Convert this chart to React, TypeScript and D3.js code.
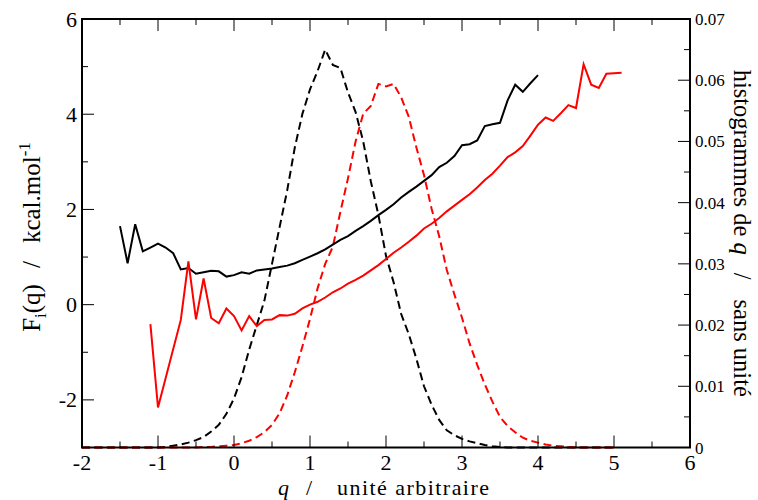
import React from "react";
import * as d3 from "d3";

// Free energy profiles F_i(q)
const qBlack = [-1.5,-1.4,-1.3,-1.2,-1.1,-1.0,-0.9,-0.8,-0.7,-0.6,-0.5,-0.4,-0.3,-0.2,-0.1,0.0,0.1,0.2,0.3,0.4,0.5,0.6,0.7,0.8,0.9,1.0,1.1,1.2,1.3,1.4,1.5,1.6,1.7,1.8,1.9,2.0,2.1,2.2,2.3,2.4,2.5,2.6,2.7,2.8,2.9,3.0,3.1,3.2,3.3,3.4,3.5,3.6,3.7,3.8,3.9,4.0];
const fBlack = [1.65,0.87,1.69,1.12,1.20,1.28,1.20,1.08,0.74,0.77,0.65,0.68,0.71,0.70,0.59,0.62,0.68,0.65,0.72,0.74,0.76,0.79,0.82,0.87,0.94,1.01,1.08,1.16,1.26,1.36,1.44,1.55,1.65,1.76,1.88,1.99,2.11,2.25,2.37,2.48,2.60,2.72,2.89,2.98,3.12,3.35,3.37,3.45,3.75,3.79,3.82,4.29,4.62,4.47,4.65,4.82];

const qRed = [-1.1,-1.0,-0.7,-0.6,-0.5,-0.4,-0.3,-0.2,-0.1,0.0,0.1,0.2,0.3,0.4,0.5,0.6,0.7,0.8,0.9,1.0,1.1,1.2,1.3,1.4,1.5,1.6,1.7,1.8,1.9,2.0,2.1,2.2,2.3,2.4,2.5,2.6,2.7,2.8,2.9,3.0,3.1,3.2,3.3,3.4,3.5,3.6,3.7,3.8,3.9,4.0,4.1,4.2,4.3,4.4,4.5,4.6,4.7,4.8,4.9,5.0,5.1];
const fRed = [-0.41,-2.16,-0.32,0.91,-0.31,0.55,-0.28,-0.39,-0.08,-0.24,-0.54,-0.24,-0.45,-0.32,-0.31,-0.22,-0.23,-0.19,-0.08,0.0,0.06,0.15,0.26,0.34,0.44,0.52,0.61,0.72,0.83,0.96,1.09,1.20,1.32,1.45,1.60,1.70,1.82,1.96,2.08,2.20,2.32,2.46,2.62,2.75,2.92,3.10,3.20,3.33,3.55,3.78,3.93,3.86,4.02,4.19,4.13,5.05,4.62,4.55,4.85,4.86,4.87];

// Histograms of q
const qHist = [-2.0,-1.9,-1.8,-1.7,-1.6,-1.5,-1.4,-1.3,-1.2,-1.1,-1.0,-0.9,-0.8,-0.7,-0.6,-0.5,-0.4,-0.3,-0.2,-0.1,0.0,0.1,0.2,0.3,0.4,0.5,0.6,0.7,0.8,0.9,1.0,1.1,1.2,1.3,1.4,1.5,1.6,1.7,1.8,1.9,2.0,2.1,2.2,2.3,2.4,2.5,2.6,2.7,2.8,2.9,3.0,3.1,3.2,3.3,3.4,3.5,3.6,3.7,3.8,3.9,4.0,4.1,4.2,4.3,4.4,4.5,4.6,4.7,4.8,4.9,5.0];
const hBlack = [0,0,0,0,0,0,0,0,0,0,0,
  0.0001,0.0003,0.0005,0.0008,0.0012,0.0017,0.0026,0.0037,0.0055,0.0080,
  0.0115,0.016,0.020,0.024,0.030,0.036,0.042,0.049,0.0545,0.0585,
  0.0615,0.065,0.0625,0.062,0.058,0.0548,0.050,0.0435,0.038,0.0313,
  0.027,0.0218,0.0185,0.0145,0.010,0.007,0.0045,0.0028,0.002,0.0014,
  0.001,0.0007,0.0004,0.0002,0.0001,0,0,0,0,0,
  0,0,0,0,0,0,0,0,0,0];
const hRed = [0,0,0,0,0,0,0,0,0,0,0,0,0,0,0,0,
  0.0001,0.0001,0.0002,0.0003,
  0.0004,0.0007,0.0011,0.0017,0.0025,0.0037,0.0056,0.0085,0.0123,0.0165,
  0.021,0.026,0.030,0.0328,0.0385,0.044,0.050,0.0545,0.0558,0.0594,
  0.059,0.0594,0.0572,0.054,0.049,0.0445,0.039,0.0345,0.029,0.025,
  0.0212,0.017,0.0135,0.0103,0.0075,0.005,0.0035,0.0025,0.0016,0.0011,
  0.0008,0.0005,0.0003,0.0002,0.0001,0,0,0,0,0,
  0];

const xTicks = [-2,-1,0,1,2,3,4,5,6];
const xMinor = [-1.5,-0.5,0.5,1.5,2.5,3.5,4.5,5.5];
const yLTicks = [-2,0,2,4,6];
const yLMinor = [-1,1,3,5];
const yRTicks = [0,0.01,0.02,0.03,0.04,0.05,0.06,0.07];
const yRLabels = ["0","0.01","0.02","0.03","0.04","0.05","0.06","0.07"];
const yRMinor = [0.005,0.015,0.025,0.035,0.045,0.055,0.065];

const FONT = '"Liberation Serif", "Times New Roman", Times, serif';

export default function App() {
  const L = 82, R = 690, T = 19, B = 447.5;
  const x = d3.scaleLinear().domain([-2, 6]).range([L, R]);
  const yL = d3.scaleLinear().domain([-3, 6]).range([B, T]);
  const yR = d3.scaleLinear().domain([0, 0.07]).range([B, T]);

  const lineF = (qs: number[], fs: number[]) =>
    d3.line<number>().x((_, i) => x(qs[i])).y((d) => yL(d))(fs) || "";
  const lineH = (hs: number[]) =>
    d3.line<number>().x((_, i) => x(qHist[i])).y((d) => yR(d))(hs) || "";

  const cy = (T + B) / 2;
  const ts = { fontFamily: FONT };

  return (
    <svg width={758} height={500} style={{ position: "absolute", left: 0, top: 0, background: "#fff", fontFamily: FONT }}>
      {/* histograms */}
      <path d={lineH(hBlack)} fill="none" stroke="#000" strokeWidth={2} strokeDasharray="8,4.5" />
      <path d={lineH(hRed)} fill="none" stroke="#ff0000" strokeWidth={2} strokeDasharray="8,4.5" />
      {/* free energies */}
      <path d={lineF(qBlack, fBlack)} fill="none" stroke="#000" strokeWidth={2} />
      <path d={lineF(qRed, fRed)} fill="none" stroke="#ff0000" strokeWidth={2} />

      {/* frame */}
      <rect x={L} y={T} width={R - L} height={B - T} fill="none" stroke="#000" strokeWidth={2} />

      {/* x ticks bottom & top */}
      {xTicks.map((t) => (
        <g key={"xt" + t}>
          <line x1={x(t)} x2={x(t)} y1={B} y2={B - 12} stroke="#000" strokeWidth={1} />
          <line x1={x(t)} x2={x(t)} y1={T} y2={T + 12} stroke="#000" strokeWidth={1} />
          <text x={x(t)} y={470} textAnchor="middle" fontSize={22} style={ts}>{String(t)}</text>
        </g>
      ))}
      {xMinor.map((t) => (
        <g key={"xm" + t}>
          <line x1={x(t)} x2={x(t)} y1={B} y2={B - 6} stroke="#000" strokeWidth={1} />
          <line x1={x(t)} x2={x(t)} y1={T} y2={T + 6} stroke="#000" strokeWidth={1} />
        </g>
      ))}

      {/* left axis */}
      {yLTicks.map((t) => (
        <g key={"yl" + t}>
          <line x1={L} x2={L + 12} y1={yL(t)} y2={yL(t)} stroke="#000" strokeWidth={1} />
          <text x={77} y={yL(t) + 7.5} textAnchor="end" fontSize={22} style={ts}>{String(t)}</text>
        </g>
      ))}
      {yLMinor.map((t) => (
        <line key={"ylm" + t} x1={L} x2={L + 6} y1={yL(t)} y2={yL(t)} stroke="#000" strokeWidth={1} />
      ))}

      {/* right axis */}
      {yRTicks.map((t, i) => (
        <g key={"yr" + t}>
          <line x1={R} x2={R - 12} y1={yR(t)} y2={yR(t)} stroke="#000" strokeWidth={1} />
          <text x={695} y={yR(t) + 6} textAnchor="start" fontSize={17} style={ts}>{yRLabels[i]}</text>
        </g>
      ))}
      {yRMinor.map((t) => (
        <line key={"yrm" + t} x1={R} x2={R - 6} y1={yR(t)} y2={yR(t)} stroke="#000" strokeWidth={1} />
      ))}

      {/* left label */}
      <text transform={`translate(40,237) rotate(-90)`} textAnchor="middle" fontSize={25} style={ts}>
        <tspan>F</tspan>
        <tspan fontSize={17} dy={6}>i</tspan>
        <tspan dy={-6}>(q)</tspan>
        <tspan dx={16}>/</tspan>
        <tspan dx={18}>kcal.mol</tspan>
        <tspan fontSize={17} dy={-10}>-1</tspan>
      </text>

      {/* right label */}
      <text transform={`translate(734,${cy}) rotate(90)`} textAnchor="middle" fontSize={24.5} style={ts}>
        <tspan>histogrammes de </tspan>
        <tspan fontStyle="italic">q</tspan>
        <tspan dx={18}>/</tspan>
        <tspan dx={20}>sans unité</tspan>
      </text>

      {/* bottom label */}
      <text y={495} fontSize={22} style={ts}>
        <tspan x={278} fontStyle="italic">q</tspan>
        <tspan x={306}>/</tspan>
        <tspan x={337} textLength={152} lengthAdjust="spacing">unité arbitraire</tspan>
      </text>
    </svg>
  );
}
